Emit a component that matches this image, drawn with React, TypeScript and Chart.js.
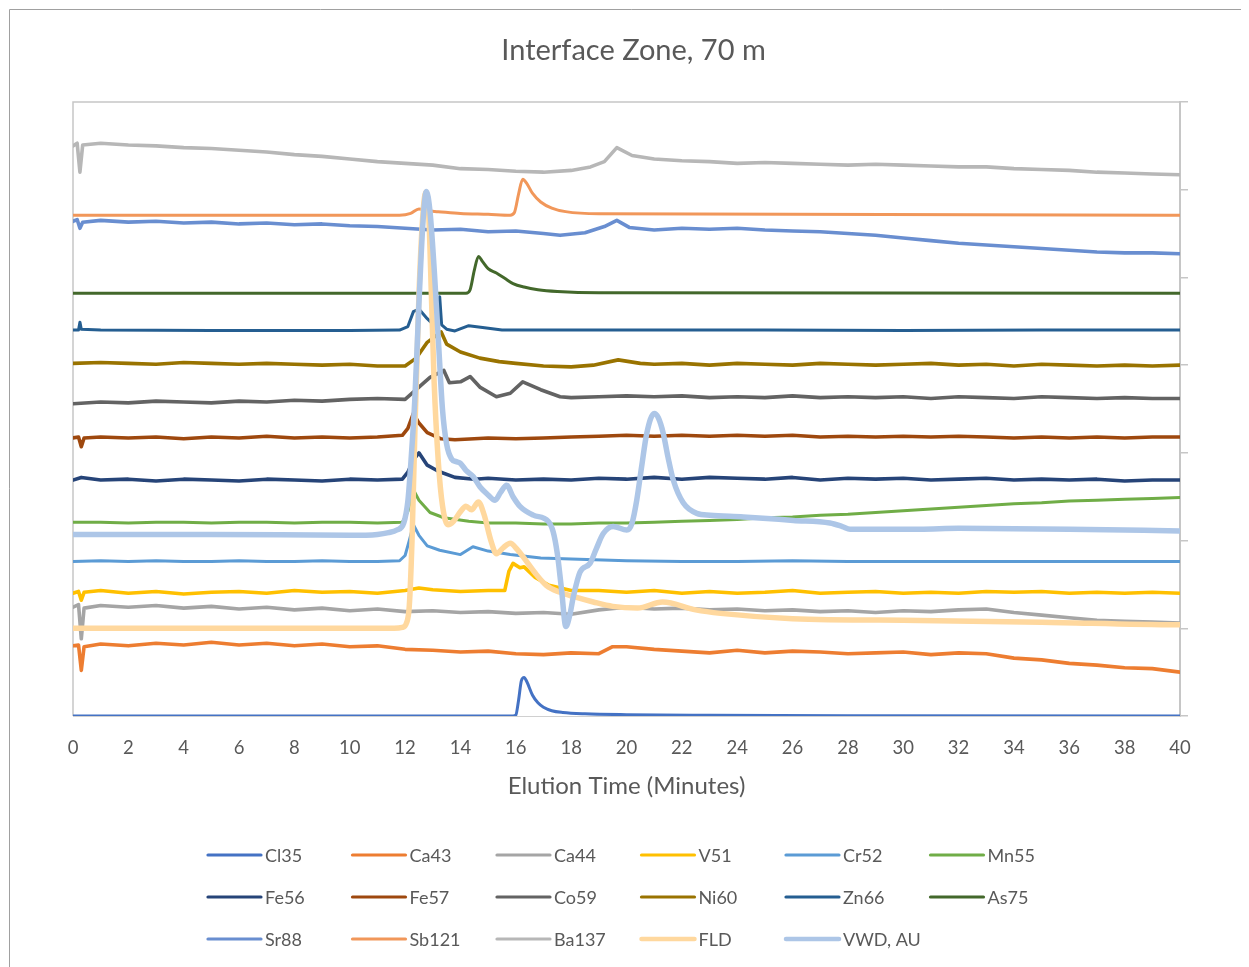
import React, { useEffect, useRef } from 'react';
import { Chart, registerables } from 'chart.js';

Chart.register(...registerables);

// ---------- data (time in minutes, offset signal in arbitrary stacked units) ----------
const seriesNames = ['Cl35', 'Ca43', 'Ca44', 'V51', 'Cr52', 'Mn55', 'Fe56', 'Fe57', 'Co59', 'Ni60', 'Zn66', 'As75', 'Sr88', 'Sb121', 'Ba137', 'FLD', 'VWD, AU'];
const seriesColors = ['#4472C4', '#ED7D31', '#A5A5A5', '#FFC000', '#5B9BD5', '#70AD47', '#264478', '#9E480E', '#636363', '#997300', '#255E91', '#43682B', '#698ED0', '#F1975A', '#B7B7B7', '#FFD89E', '#ADC6E7'];
const seriesWidths = [3, 3.6, 3.6, 3.6, 3, 3, 3.6, 3.6, 3.6, 3.6, 3, 3, 3.6, 3, 3.6, 5.5, 5.5];
const smoothSeries = [true, false, false, false, false, false, false, false, false, false, false, true, false, true, false, true, true];

const xTicks = [0, 2, 4, 6, 8, 10, 12, 14, 16, 18, 20, 22, 24, 26, 28, 30, 32, 34, 36, 38, 40];
const chartTitle = 'Interface Zone, 70 m';
const xAxisTitle = 'Elution Time (Minutes)';

const cl35 = [[0, 0], [15.9, 0], [16.0, 0.1], [16.1, 1.8], [16.2, 4.0], [16.3, 4.4], [16.4, 3.9], [16.6, 2.4], [16.8, 1.5], [17.0, 1.0], [17.3, 0.6], [17.7, 0.4], [18.5, 0.25], [20, 0.15], [23, 0.08], [28, 0.03], [40, 0]];
const ca43 = [[0, 8.0], [0.2, 8.1], [0.3, 5.2], [0.4, 7.9], [1, 8.2], [2, 8.0], [3, 8.3], [4, 8.1], [5, 8.4], [6, 8.1], [7, 8.3], [8, 8.0], [9, 8.2], [10, 7.9], [11, 8.0], [12, 7.6], [13, 7.5], [14, 7.3], [15, 7.4], [16, 7.1], [17, 7.0], [18, 7.2], [19, 7.1], [19.5, 7.9], [20, 7.9], [21, 7.6], [22, 7.4], [23, 7.2], [24, 7.5], [25, 7.2], [26, 7.4], [27, 7.3], [28, 7.1], [29, 7.2], [30, 7.3], [31, 7.0], [32, 7.2], [33, 7.1], [34, 6.6], [35, 6.4], [36, 6.0], [37, 5.8], [38, 5.5], [39, 5.4], [40, 5.0]];
const ca44 = [[0, 12.4], [0.2, 12.7], [0.3, 8.8], [0.4, 12.3], [1, 12.6], [2, 12.4], [3, 12.6], [4, 12.3], [5, 12.5], [6, 12.2], [7, 12.4], [8, 12.1], [9, 12.3], [10, 12.0], [11, 12.2], [12, 11.9], [13, 12.0], [14, 11.8], [15, 11.9], [16, 11.7], [17, 11.8], [18, 11.6], [19, 12.1], [20, 12.4], [21, 12.2], [22, 12.3], [23, 12.1], [24, 12.2], [25, 12.0], [26, 12.1], [27, 11.9], [28, 12.0], [29, 11.8], [30, 12.0], [31, 11.9], [32, 12.1], [33, 12.2], [34, 11.8], [35, 11.5], [36, 11.2], [37, 10.9], [38, 10.8], [39, 10.7], [40, 10.6]];
const v51 = [[0, 14.0], [0.2, 14.2], [0.3, 13.2], [0.4, 14.1], [1, 14.3], [2, 14.0], [3, 14.2], [4, 13.9], [5, 14.1], [6, 14.2], [7, 14.0], [8, 14.3], [9, 14.1], [10, 14.2], [11, 14.0], [12, 14.3], [12.5, 14.6], [13, 14.4], [14, 14.2], [15, 14.3], [15.6, 14.3], [15.75, 16.5], [15.9, 17.4], [16.15, 16.9], [16.3, 17.0], [16.7, 15.8], [17.2, 14.9], [18, 14.3], [19, 14.3], [20, 14.1], [21, 14.3], [22, 14.0], [23, 14.2], [24, 14.0], [25, 14.1], [26, 14.3], [27, 14.0], [28, 14.1], [29, 14.2], [30, 14.0], [31, 14.1], [32, 14.0], [33, 14.2], [34, 14.1], [35, 14.2], [36, 14.0], [37, 14.1], [38, 14.0], [39, 14.1], [40, 14.0]];
const cr52 = [[0, 17.6], [1, 17.7], [2, 17.6], [3, 17.7], [4, 17.6], [5, 17.6], [6, 17.7], [7, 17.6], [8, 17.6], [9, 17.7], [10, 17.6], [11, 17.6], [11.8, 17.7], [12.0, 18.3], [12.15, 20.0], [12.3, 21.8], [12.5, 20.6], [12.8, 19.4], [13.25, 18.9], [14.0, 18.4], [14.45, 19.3], [15.0, 18.8], [15.8, 18.4], [16.9, 18.0], [18, 17.9], [20, 17.7], [22, 17.6], [24, 17.6], [26, 17.7], [28, 17.6], [30, 17.6], [32, 17.6], [34, 17.6], [36, 17.6], [38, 17.6], [40, 17.6]];
const mn55 = [[0, 22.1], [1, 22.1], [2, 22.0], [3, 22.1], [4, 22.1], [5, 22.0], [6, 22.1], [7, 22.1], [8, 22.0], [9, 22.1], [10, 22.1], [11, 22.0], [11.9, 22.1], [12.1, 23.3], [12.3, 25.8], [12.5, 24.6], [12.9, 23.2], [13.4, 22.6], [14.3, 22.2], [15, 22.0], [16, 22.0], [17, 21.9], [18, 21.9], [19, 22.0], [20, 22.0], [21, 22.1], [22, 22.2], [23, 22.3], [24, 22.4], [25, 22.6], [26, 22.7], [27, 22.9], [28, 23.0], [29, 23.2], [30, 23.4], [31, 23.6], [32, 23.8], [33, 24.0], [34, 24.2], [35, 24.3], [36, 24.5], [37, 24.6], [38, 24.7], [39, 24.8], [40, 24.9]];
const fe56 = [[0, 26.9], [0.3, 27.2], [1, 26.9], [2, 27.0], [3, 26.8], [4, 27.0], [5, 26.9], [6, 26.8], [7, 27.0], [8, 26.9], [9, 26.8], [10, 27.0], [11, 26.9], [11.9, 27.0], [12.1, 27.8], [12.3, 29.2], [12.5, 30.0], [12.8, 28.6], [13.2, 27.9], [13.8, 27.2], [14.5, 27.0], [15, 27.1], [16, 26.9], [17, 27.0], [18, 26.9], [19, 27.1], [20, 27.0], [21, 27.2], [22, 27.0], [23, 27.2], [24, 27.1], [25, 27.0], [26, 27.2], [27, 26.9], [28, 27.1], [29, 27.0], [30, 27.1], [31, 26.9], [32, 27.0], [33, 27.1], [34, 26.9], [35, 27.0], [36, 26.9], [37, 27.0], [38, 26.8], [39, 26.9], [40, 26.9]];
const fe57 = [[0, 31.7], [0.2, 31.8], [0.3, 30.7], [0.4, 31.7], [1, 31.8], [2, 31.7], [3, 31.8], [4, 31.6], [5, 31.8], [6, 31.7], [7, 31.9], [8, 31.7], [9, 31.8], [10, 31.7], [11, 31.8], [11.9, 32.0], [12.1, 32.8], [12.3, 34.5], [12.5, 33.4], [12.8, 32.3], [13.3, 31.6], [13.8, 31.5], [14.5, 31.6], [15, 31.7], [16, 31.6], [17, 31.7], [18, 31.8], [19, 31.9], [20, 32.0], [21, 31.9], [22, 32.0], [23, 31.9], [24, 32.0], [25, 31.9], [26, 32.0], [27, 31.8], [28, 31.9], [29, 31.8], [30, 31.9], [31, 31.8], [32, 31.9], [33, 31.8], [34, 31.7], [35, 31.8], [36, 31.7], [37, 31.8], [38, 31.7], [39, 31.8], [40, 31.8]];
const co59 = [[0, 35.6], [1, 35.8], [2, 35.7], [3, 35.9], [4, 35.8], [5, 35.7], [6, 35.9], [7, 35.8], [8, 36.0], [9, 35.9], [10, 36.1], [11, 36.2], [12, 36.1], [12.5, 37.5], [12.9, 38.6], [13.4, 39.4], [13.6, 38.0], [14.0, 38.1], [14.35, 38.7], [14.7, 37.5], [15.3, 36.4], [15.8, 36.8], [16.25, 38.1], [16.9, 37.2], [17.6, 36.4], [18, 36.3], [19, 36.4], [20, 36.5], [21, 36.4], [22, 36.5], [23, 36.3], [24, 36.4], [25, 36.3], [26, 36.5], [27, 36.3], [28, 36.4], [29, 36.3], [30, 36.4], [31, 36.2], [32, 36.4], [33, 36.3], [34, 36.2], [35, 36.4], [36, 36.3], [37, 36.2], [38, 36.3], [39, 36.2], [40, 36.2]];
const ni60 = [[0, 40.2], [1, 40.3], [2, 40.2], [3, 40.1], [4, 40.3], [5, 40.2], [6, 40.1], [7, 40.2], [8, 40.1], [9, 40.0], [10, 40.1], [11, 39.9], [12, 39.9], [12.4, 40.8], [12.8, 42.6], [13.3, 43.8], [13.5, 42.4], [14, 41.5], [14.7, 40.8], [15.4, 40.4], [16, 40.2], [17, 39.9], [18, 39.8], [18.8, 40.0], [19.7, 40.6], [20.5, 40.2], [21, 40.1], [22, 40.2], [23, 40.0], [24, 40.2], [25, 40.1], [26, 40.0], [27, 40.2], [28, 40.1], [29, 40.0], [30, 40.1], [31, 40.2], [32, 40.0], [33, 40.1], [34, 39.9], [35, 40.1], [36, 40.0], [37, 39.9], [38, 40.0], [39, 39.9], [40, 40.0]];
const zn66 = [[0, 44.0], [0.2, 44.0], [0.25, 44.9], [0.3, 44.1], [1, 44.0], [5, 43.95], [10, 43.95], [11.8, 44.0], [12.1, 44.4], [12.3, 46.1], [12.5, 46.4], [12.8, 45.3], [13.1, 44.4], [13.2, 44.3], [13.25, 47.8], [13.32, 44.6], [13.5, 44.1], [13.8, 43.9], [14.3, 44.5], [14.8, 44.3], [15.5, 44.0], [20, 44.0], [25, 44.0], [30, 43.95], [35, 44.0], [40, 44.0]];
const as75 = [[0, 48.2], [14.2, 48.2], [14.35, 48.6], [14.5, 50.8], [14.65, 52.4], [14.8, 51.8], [15.0, 51.0], [15.3, 50.5], [15.6, 49.9], [15.9, 49.3], [16.3, 48.9], [16.8, 48.6], [17.5, 48.4], [19, 48.25], [40, 48.2]];
const sr88 = [[0, 56.4], [0.15, 56.6], [0.25, 55.6], [0.35, 56.3], [1, 56.5], [2, 56.3], [3, 56.4], [4, 56.2], [5, 56.3], [6, 56.1], [7, 56.2], [8, 56.0], [9, 56.1], [10, 55.9], [11, 55.8], [12, 55.6], [13, 55.4], [14, 55.5], [15, 55.2], [16, 55.3], [17, 55.0], [17.6, 54.8], [18.5, 55.1], [19.2, 55.8], [19.65, 56.5], [20.1, 55.7], [21, 55.4], [22, 55.6], [23, 55.5], [24, 55.6], [25, 55.4], [26, 55.3], [27, 55.2], [28, 55.0], [29, 54.8], [30, 54.5], [31, 54.2], [32, 53.9], [33, 53.7], [34, 53.5], [35, 53.3], [36, 53.1], [37, 52.9], [38, 52.8], [39, 52.8], [40, 52.7]];
const sb121 = [[0, 57.1], [11.8, 57.1], [12.2, 57.3], [12.5, 57.8], [12.8, 57.6], [13.2, 57.5], [14, 57.3], [15, 57.2], [15.8, 57.1], [15.95, 57.4], [16.1, 59.5], [16.25, 61.2], [16.4, 60.7], [16.6, 59.6], [16.9, 58.6], [17.3, 57.9], [17.8, 57.5], [19, 57.25], [40, 57.1]];
const ba137 = [[0, 65.0], [0.15, 65.3], [0.25, 62.0], [0.35, 65.1], [1, 65.3], [2, 65.1], [3, 65.0], [4, 64.8], [5, 64.7], [6, 64.5], [7, 64.3], [8, 64.0], [9, 63.8], [10, 63.5], [11, 63.2], [12, 63.0], [13, 62.8], [14, 62.4], [15, 62.3], [16, 62.1], [17, 62.0], [18, 62.2], [18.7, 62.6], [19.2, 63.2], [19.65, 64.8], [20.2, 63.9], [21, 63.5], [22, 63.3], [23, 63.2], [24, 63.0], [25, 63.1], [26, 63.0], [27, 62.9], [28, 62.8], [29, 62.9], [30, 62.8], [31, 62.7], [32, 62.6], [33, 62.6], [34, 62.4], [35, 62.3], [36, 62.2], [37, 62.0], [38, 61.9], [39, 61.8], [40, 61.7]];
const fld = [[0, 10.0], [11.6, 10.0], [11.9, 10.1], [12.05, 10.6], [12.15, 12.5], [12.25, 20], [12.35, 32], [12.5, 48], [12.65, 57.5], [12.75, 59.7], [12.85, 57.5], [12.95, 48], [13.05, 38], [13.2, 29], [13.35, 24], [13.55, 21.8], [13.75, 22.2], [14.0, 23.3], [14.2, 23.9], [14.4, 23.5], [14.65, 24.4], [14.85, 23], [15.1, 20], [15.3, 18.5], [15.55, 19.2], [15.8, 19.7], [16.05, 19], [16.3, 18.0], [16.7, 16.3], [17.1, 14.9], [17.6, 14.1], [18.1, 13.6], [18.8, 13], [19.5, 12.5], [20.4, 12.3], [21.3, 13.0], [22.5, 12.1], [23.4, 11.7], [26, 11.1], [30.6, 10.9], [35, 10.7], [39.9, 10.4], [40, 10.4]];
const vwd = [[0, 20.7], [5, 20.7], [10, 20.6], [11.0, 20.7], [11.4, 20.9], [11.7, 21.2], [11.95, 22.0], [12.1, 24.5], [12.2, 28.5], [12.35, 36], [12.5, 47], [12.65, 56.5], [12.77, 59.8], [12.9, 57.5], [13.05, 51], [13.2, 43], [13.35, 35], [13.5, 31], [13.68, 29.3], [13.85, 29.0], [14.0, 28.8], [14.2, 28.0], [14.46, 27.3], [14.71, 26.1], [15.0, 25.2], [15.25, 24.6], [15.45, 25.5], [15.67, 26.3], [15.9, 25.0], [16.15, 23.9], [16.63, 22.9], [17.17, 22.2], [17.35, 21.0], [17.5, 18.5], [17.65, 14.5], [17.81, 10.2], [17.95, 11.5], [18.08, 13.6], [18.32, 16.4], [18.68, 17.4], [18.9, 19.0], [19.16, 20.8], [19.52, 21.6], [20.01, 21.2], [20.2, 22.0], [20.37, 24.6], [20.55, 28.5], [20.73, 32.2], [21.0, 34.5], [21.15, 34.0], [21.33, 32.2], [21.5, 29.5], [21.69, 26.9], [22.05, 24.3], [22.54, 23.1], [23.02, 22.9], [24.22, 22.7], [26.03, 22.3], [27.35, 22.0], [27.8, 21.6], [28.08, 21.3], [30.6, 21.3], [32, 21.4], [36, 21.3], [40, 21.1]];

const seriesData = [cl35, ca43, ca44, v51, cr52, mn55, fe56, fe57, co59, ni60, zn66, as75, sr88, sb121, ba137, fld, vwd];

const FONT = 'Lato, "Open Sans", sans-serif';
const TEXT = '#595959';

const frame = {
  id: 'frame',
  beforeDraw(chart: any) {
    const ctx = chart.ctx;
    ctx.save();
    ctx.fillStyle = '#ffffff';
    ctx.fillRect(0, 0, chart.width, chart.height);
    ctx.strokeStyle = '#a0a0a0';
    ctx.lineWidth = 1;
    ctx.beginPath();
    ctx.moveTo(1.5, chart.height + 5);
    ctx.lineTo(1.5, 1.5);
    ctx.lineTo(chart.width + 5, 1.5);
    ctx.stroke();
    ctx.restore();
  },
  beforeDatasetsDraw(chart: any) {
    const { left, top, right, bottom } = chart.chartArea;
    const ctx = chart.ctx;
    ctx.save();
    ctx.strokeStyle = '#c6c6c6';
    ctx.lineWidth = 1.5;
    ctx.beginPath();
    ctx.moveTo(left, bottom);
    ctx.lineTo(left, top);
    ctx.lineTo(right, top);
    ctx.stroke();
    ctx.restore();
  },
};

const legendPlugin = {
  id: 'gridLegend',
  afterDraw(chart: any) {
    const ctx = chart.ctx;
    ctx.save();
    ctx.font = `18px ${FONT}`;
    ctx.textBaseline = 'middle';
    ctx.textAlign = 'left';
    seriesNames.forEach((name, i) => {
      const col = i % 6;
      const row = Math.floor(i / 6);
      const x = 199 + col * 144.5;
      const y = 847 + row * 42;
      ctx.strokeStyle = seriesColors[i];
      ctx.lineWidth = seriesWidths[i] > 4 ? 4.5 : 3.2;
      ctx.lineCap = 'round';
      ctx.beginPath();
      ctx.moveTo(x + 1, y);
      ctx.lineTo(x + 54, y);
      ctx.stroke();
      ctx.fillStyle = TEXT;
      ctx.fillText(name, x + 58, y + 1);
    });
    ctx.restore();
  },
};

export default function App() {
  const ref = useRef<HTMLCanvasElement | null>(null);

  useEffect(() => {
    if (!ref.current) return;
    const n = seriesNames.length;
    const chart = new Chart(ref.current, {
      type: 'line',
      data: {
        datasets: seriesNames.map((name, i) => ({
          label: name,
          data: seriesData[i].map(([x, y]) => ({ x, y })),
          borderColor: seriesColors[i],
          backgroundColor: seriesColors[i],
          borderWidth: seriesWidths[i],
          pointRadius: 0,
          fill: false,
          tension: 0,
          cubicInterpolationMode: smoothSeries[i] ? 'monotone' : 'default',
          borderJoinStyle: 'round',
          borderCapStyle: 'round',
          order: n - 1 - i,
        })),
      },
      options: {
        responsive: false,
        animation: false,
        devicePixelRatio: 1,
        layout: { padding: { left: 65, right: 59, top: 0, bottom: 161 } },
        plugins: {
          legend: { display: false },
          tooltip: { enabled: false },
          title: {
            display: true,
            text: chartTitle,
            color: TEXT,
            font: { family: FONT, size: 29, weight: 'normal' },
            padding: { top: 25.6, bottom: 33.6 },
          },
        },
        scales: {
          x: {
            type: 'linear',
            min: 0,
            max: 40,
            afterBuildTicks: (scale: any) => {
              scale.ticks = xTicks.map((v) => ({ value: v }));
            },
            afterFit: (scale: any) => {
              scale.height = 90;
            },
            grid: { display: false },
            border: { display: true, color: '#d0d0d0', width: 1 },
            ticks: {
              color: TEXT,
              font: { family: FONT, size: 18.5 },
              padding: 13,
              maxRotation: 0,
              autoSkip: false,
            },
            title: {
              display: true,
              text: xAxisTitle,
              color: TEXT,
              font: { family: FONT, size: 24 },
              padding: { top: 0, bottom: 5 },
            },
          },
          y: {
            type: 'linear',
            position: 'right',
            min: 0,
            max: 70,
            afterFit: (scale: any) => {
              scale.width = 14;
            },
            ticks: { display: false, stepSize: 10 },
            grid: {
              display: true,
              drawOnChartArea: false,
              drawTicks: true,
              tickLength: 8,
              color: '#c6c6c6',
              lineWidth: 1.5,
            },
            border: { display: true, color: '#c6c6c6', width: 2 },
          },
        },
      },
      plugins: [frame, legendPlugin],
    } as any);
    return () => chart.destroy();
  }, []);

  return (
    <div style={{ width: 1241, height: 959, overflow: 'hidden' }}>
      <canvas ref={ref} width={1245} height={959} style={{ display: 'block', width: 1245, height: 959 }} />
    </div>
  );
}
